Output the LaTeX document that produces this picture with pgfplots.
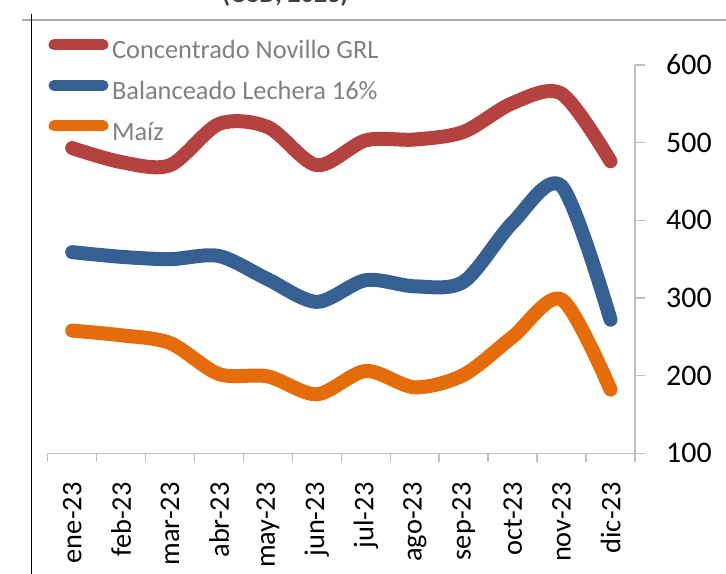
\documentclass[border=0pt]{standalone}
\usepackage{fontspec}
\setmainfont{Carlito}
\usepackage{pgfplots}
\pgfplotsset{compat=1.18}
\definecolor{cred}{RGB}{179,66,64}
\definecolor{cblue}{RGB}{54,96,146}
\definecolor{corange}{RGB}{228,108,10}
\definecolor{axgray}{RGB}{191,191,191}
\definecolor{leggray}{RGB}{128,128,128}
\definecolor{framegray}{RGB}{170,170,170}
\begin{document}
\begin{tikzpicture}
\useasboundingbox (0,0) rectangle (726bp,574bp);
\fill[white] (0,0) rectangle (726bp,574bp);
\draw[line width=2.5bp, framegray] (22bp,554bp) -- (726bp,554bp);
\draw[line width=1.5bp, black] (31.5bp,0) -- (31.5bp,560bp);
\node[anchor=base west, font=\bfseries\fontsize{26}{30}\selectfont, text=black!75, inner sep=0pt] at (222bp,571.5bp) {(USD, 2023)};
\begin{axis}[
  at={(47.7bp,120.7bp)}, anchor=south west,
  width=587.3bp, height=388.3bp, scale only axis,
  xmin=-0.5, xmax=11.5, ymin=100, ymax=600,
  axis x line*=bottom, axis y line*=right,
  axis line style={draw=axgray, line width=1.5bp},
  xtick={0,...,11},
  xticklabels={ene-23,feb-23,mar-23,abr-23,may-23,jun-23,jul-23,ago-23,sep-23,oct-23,nov-23,dic-23},
  minor xtick={-0.5,0.5,...,11.5},
  ytick={100,200,...,600},
  tick align=outside,
  major tick length=10bp, minor tick length=9bp,
  major x tick style={draw=none},
  minor x tick style={draw=axgray, line width=1.5bp},
  major y tick style={draw=axgray, line width=1.5bp},
  /pgf/number format/assume math mode=true,
  xticklabel style={font=\fontsize{28.5}{32}\selectfont, inner sep=0pt, yshift=-19bp, rotate=90, anchor=east},
  yticklabel style={font=\fontsize{30}{35}\selectfont, inner sep=0pt, xshift=21bp, anchor=west},
  clip=false,
  legend style={at={(axis description cs:0.0014,1.0662)}, anchor=north west, draw=none, fill=none,
    inner sep=0pt, outer sep=0pt, row sep=15bp, column sep=3.5bp,
    font=\fontsize{26.5}{32}\selectfont, text=leggray,
    nodes={inner sep=0pt, text height=19bp, text depth=6bp}},
  legend cell align=left,
  legend image code/.code={\draw[#1, line width=11bp] (0bp,7.6bp) -- (49bp,7.6bp);},
  every axis plot/.append style={line width=14bp, line cap=round, line join=round, smooth, no markers},
]
\addplot[cred] coordinates {(0,493) (1,475) (2,471) (3,524) (4,520) (5,471) (6,503) (7,504) (8,514) (9,551) (10,563) (11,476)};
\addlegendentry{Concentrado Novillo GRL}
\addplot[cblue] coordinates {(0,359) (1,353) (2,350) (3,354) (4,324) (5,295) (6,323) (7,315) (8,321) (9,397) (10,444) (11,272)};
\addlegendentry{Balanceado Lechera 16\%}
\addplot[corange] coordinates {(0,258) (1,252) (2,242) (3,202) (4,199) (5,176) (6,206) (7,185) (8,201) (9,250) (10,298) (11,182)};
\addlegendentry{Maíz}
\end{axis}
\end{tikzpicture}
\end{document}
